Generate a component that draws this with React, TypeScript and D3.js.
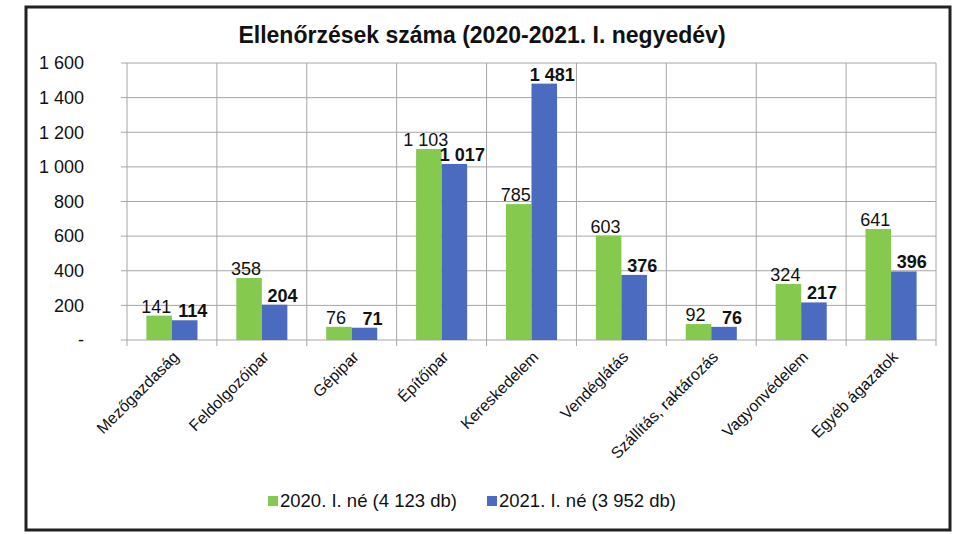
import { useEffect, useRef } from "react";
import * as d3 from "d3";

const categories = [
  "Mezőgazdaság",
  "Feldolgozóipar",
  "Gépipar",
  "Építőipar",
  "Kereskedelem",
  "Vendéglátás",
  "Szállítás, raktározás",
  "Vagyonvédelem",
  "Egyéb ágazatok",
];
const values2020 = [141, 358, 76, 1103, 785, 603, 92, 324, 641];
const values2021 = [114, 204, 71, 1017, 1481, 376, 76, 217, 396];
const yTicks = [0, 200, 400, 600, 800, 1000, 1200, 1400, 1600];
const seriesNames = ["2020. I. né (4 123 db)", "2021. I. né (3 952 db)"];
const colors = ["#86c94f", "#4a6bbf"];

const fmt = (v: number) => (v === 0 ? "-" : d3.format(",")(v).replace(/,/g, " "));

const App = () => {
  const svgRef = useRef<SVGSVGElement>(null);

  useEffect(() => {
    if (!svgRef.current) return;
    const svg = d3.select(svgRef.current);
    svg.selectAll("*").remove();

    const width = 963;
    const height = 534;
    const margin = { top: 63, right: 27, bottom: 194, left: 127 };
    const font = "'Liberation Sans', Arial, sans-serif";

    svg.attr("width", width).attr("height", height).style("font-family", font);

    svg.append("rect").attr("width", width).attr("height", height).attr("fill", "#fff");
    svg.append("rect")
      .attr("x", 26).attr("y", 7).attr("width", 924).attr("height", 523)
      .attr("fill", "none").attr("stroke", "#222").attr("stroke-width", 3);

    const x = d3.scaleBand<string>().domain(categories).range([margin.left, width - margin.right]);
    const y = d3.scaleLinear().domain([0, 1600]).range([height - margin.bottom, margin.top]);
    const sub = d3.scaleBand<number>().domain([0, 1]).range([0, x.bandwidth()]).paddingOuter(0.76);

    const g = svg.append("g");

    // horizontal grid
    g.selectAll(".hgrid")
      .data(yTicks)
      .join("line")
      .attr("x1", margin.left - 6)
      .attr("x2", width - margin.right)
      .attr("y1", d => y(d))
      .attr("y2", d => y(d))
      .attr("stroke", "#a6a6a6")
      .attr("stroke-width", 1);

    // vertical grid (category boundaries)
    const bounds = categories.map(c => x(c)!).concat([width - margin.right]);
    g.selectAll(".vgrid")
      .data(bounds)
      .join("line")
      .attr("x1", d => d)
      .attr("x2", d => d)
      .attr("y1", y(1600))
      .attr("y2", y(0) + 6)
      .attr("stroke", "#a6a6a6")
      .attr("stroke-width", 1);

    // y labels
    g.selectAll(".ylab")
      .data(yTicks)
      .join("text")
      .attr("x", 84)
      .attr("y", d => y(d))
      .attr("dy", "0.35em")
      .attr("text-anchor", "end")
      .style("font-size", "18px")
      .style("fill", "#111")
      .text(d => fmt(d));

    const series = [values2020, values2021];
    series.forEach((vals, si) => {
      g.selectAll(`.bar${si}`)
        .data(vals)
        .join("rect")
        .attr("x", (_, i) => x(categories[i])! + sub(si)!)
        .attr("y", d => y(d))
        .attr("width", sub.bandwidth())
        .attr("height", d => y(0) - y(d))
        .attr("fill", colors[si]);

      g.selectAll(`.lab${si}`)
        .data(vals)
        .join("text")
        .attr("x", (_, i) => x(categories[i])! + sub(si)! + sub.bandwidth() / 2 + (si === 0 ? -3 : 8))
        .attr("y", d => y(d) - 3)
        .attr("text-anchor", "middle")
        .style("font-size", "18px")
        .style("font-weight", si === 1 ? "700" : "400")
        .style("fill", "#111")
        .text(d => fmt(d));
    });

    // x labels
    g.selectAll(".xlab")
      .data(categories)
      .join("text")
      .attr("transform", d => `translate(${x(d)! + x.bandwidth() / 2 + 4},${y(0) + 14}) rotate(-45)`)
      .attr("text-anchor", "end")
      .attr("dy", "0.35em")
      .style("font-size", "16px")
      .style("fill", "#111")
      .text(d => d);

    // title
    svg.append("text")
      .attr("x", 482)
      .attr("y", 43)
      .attr("text-anchor", "middle")
      .style("font-size", "23px")
      .style("font-weight", "700")
      .style("fill", "#111")
      .text("Ellenőrzések száma (2020-2021. I. negyedév)");

    // legend
    const legendX = [268, 487];
    seriesNames.forEach((name, i) => {
      svg.append("rect")
        .attr("x", legendX[i]).attr("y", 496)
        .attr("width", 10).attr("height", 10)
        .attr("fill", colors[i]);
      svg.append("text")
        .attr("x", legendX[i] + 12)
        .attr("y", 501)
        .attr("dy", "0.35em")
        .style("font-size", "18.5px")
        .style("fill", "#111")
        .text(name);
    });
  }, []);

  return <svg ref={svgRef} style={{ position: "absolute", left: 0, top: 0, display: "block" }}></svg>;
};

export default App;
